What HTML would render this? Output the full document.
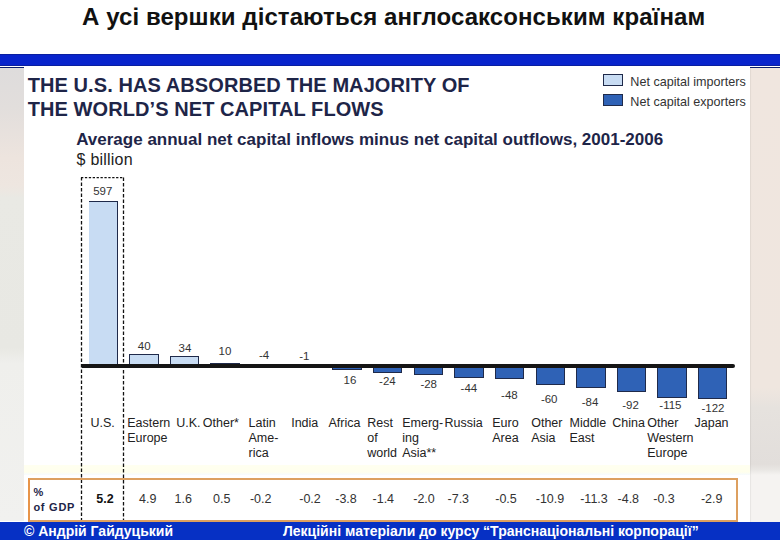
<!DOCTYPE html><html><head><meta charset="utf-8"><style>
*{margin:0;padding:0;box-sizing:border-box}
html,body{width:780px;height:540px;overflow:hidden;background:#fff;font-family:'Liberation Sans', sans-serif}
.a{position:absolute;white-space:nowrap}
</style></head><body>
<div class="a" style="left:82px;top:4.98px;font-size:24px;line-height:24px;letter-spacing:0.08px;font-weight:bold;color:#111">А усі вершки дістаються англосаксонським країнам</div>
<div class="a" style="left:0;top:54px;width:780px;height:11.5px;background:#0824CC;box-shadow:inset 0 1px 0 #0A1FA0,inset 0 -1px 0 #0A1FA0"></div>
<div class="a" style="left:0;top:66.5px;width:24px;height:1.5px;background:#0B1F6E"></div>
<div class="a" style="left:750px;top:66.5px;width:30px;height:1.5px;background:#0B1F6E"></div>
<div class="a" style="left:0;top:68px;width:24px;height:453px;background:linear-gradient(180deg,#DEDCDC 0px,#E2DEDC 40px,#EDE4DE 90px,#EEE6E0 118px,#E9E9E4 130px,#E8E8E3 280px,#EFEFEC 295px,#F1F1EF 453px)"></div>
<div class="a" style="left:750px;top:68px;width:30px;height:453.5px;background:linear-gradient(180deg,#F0E6DF 0px,#EFE6DF 320px,#E6E2DE 340px,#E2DEDB 396px,#E9E7E4 402px,#F5F3F1 407px,#F5F3F1 453.5px);box-shadow:inset 1px 0 1px rgba(0,0,0,0.06)"></div>
<div class="a" style="left:24px;top:465px;width:726px;height:10px;background:linear-gradient(180deg,#FFFFF0,#FFFFEC 70%,#F6FBFF)"></div>
<div class="a" style="left:27.7px;top:72.77px;font-size:20px;line-height:24px;letter-spacing:0.08px;font-weight:bold;color:#1E2548">THE U.S. HAS ABSORBED THE MAJORITY OF<br>THE WORLD’S NET CAPITAL FLOWS</div>
<div class="a" style="left:76.2px;top:130.11px;font-size:17px;line-height:19px;font-weight:bold;color:#1E2548">Average annual net capital inflows minus net capital outflows, 2001-2006</div>
<div class="a" style="left:76.6px;top:150.16px;font-size:16px;letter-spacing:0.22px;line-height:19px;color:#222">$ billion</div>
<div class="a" style="left:602.5px;top:73.8px;width:20px;height:12.4px;background:#C8DCF3;border:1px solid #1F2A4A"></div>
<div class="a" style="left:602.5px;top:94px;width:20px;height:11.5px;background:#2F62B6;border:1px solid #1F2A4A"></div>
<div class="a" style="left:630.3px;top:71.93px;font-size:12.6px;line-height:20px;color:#333">Net capital importers<br>Net capital exporters</div>
<svg class="a" style="left:0;top:0" width="780" height="540"><path d="M81.5 521.5V177.6M123.5 177.6V521.5" fill="none" stroke="#111" stroke-width="1.3" stroke-dasharray="3.4 2.1"/><path d="M81 177.6H124" fill="none" stroke="#111" stroke-width="1.3" stroke-dasharray="2.3 1.6"/></svg>
<div class="a" style="left:89px;top:201px;width:29px;height:164.0px;background:#C8DCF3;border:1px solid #1F2A4A;border-bottom:none;border-left:none"></div>
<div class="a" style="left:129.20px;top:354.2px;width:29.4px;height:10.8px;background:#C8DCF3;border:1px solid #1F2A4A;border-bottom:none"></div>
<div class="a" style="left:169.83px;top:356.2px;width:29.4px;height:8.8px;background:#C8DCF3;border:1px solid #1F2A4A;border-bottom:none"></div>
<div class="a" style="left:210.46px;top:363.0px;width:29.4px;height:2.0px;background:#C8DCF3;border:1px solid #1F2A4A;border-bottom:none"></div>
<div class="a" style="left:332.35px;top:366px;width:29.4px;height:3.8px;background:#2F62B6;border:1px solid #1F2A4A;border-top:none"></div>
<div class="a" style="left:372.98px;top:366px;width:29.4px;height:7.0px;background:#2F62B6;border:1px solid #1F2A4A;border-top:none"></div>
<div class="a" style="left:413.61px;top:366px;width:29.4px;height:9.1px;background:#2F62B6;border:1px solid #1F2A4A;border-top:none"></div>
<div class="a" style="left:454.24px;top:366px;width:29.4px;height:11.6px;background:#2F62B6;border:1px solid #1F2A4A;border-top:none"></div>
<div class="a" style="left:494.87px;top:366px;width:29.4px;height:13.4px;background:#2F62B6;border:1px solid #1F2A4A;border-top:none"></div>
<div class="a" style="left:535.50px;top:366px;width:29.4px;height:18.6px;background:#2F62B6;border:1px solid #1F2A4A;border-top:none"></div>
<div class="a" style="left:576.13px;top:366px;width:29.4px;height:22.0px;background:#2F62B6;border:1px solid #1F2A4A;border-top:none"></div>
<div class="a" style="left:616.76px;top:366px;width:29.4px;height:25.5px;background:#2F62B6;border:1px solid #1F2A4A;border-top:none"></div>
<div class="a" style="left:657.39px;top:366px;width:29.4px;height:31.5px;background:#2F62B6;border:1px solid #1F2A4A;border-top:none"></div>
<div class="a" style="left:698.02px;top:366px;width:29.4px;height:32.7px;background:#2F62B6;border:1px solid #1F2A4A;border-top:none"></div>
<div class="a" style="left:81.7px;top:364px;width:653.5px;height:3.5px;background:#151515;border-radius:0 2px 2px 0"></div>
<div class="a" style="left:62.8px;width:80px;text-align:center;top:184.25px;font-size:11.5px;line-height:14px;color:#333">597</div>
<div class="a" style="left:104.2px;width:80px;text-align:center;top:338.95px;font-size:11.5px;line-height:14px;color:#333">40</div>
<div class="a" style="left:145.0px;width:80px;text-align:center;top:340.55px;font-size:11.5px;line-height:14px;color:#333">34</div>
<div class="a" style="left:185.0px;width:80px;text-align:center;top:343.55px;font-size:11.5px;line-height:14px;color:#333">10</div>
<div class="a" style="left:224.0px;width:80px;text-align:center;top:348.25px;font-size:11.5px;line-height:14px;color:#333">-4</div>
<div class="a" style="left:264.3px;width:80px;text-align:center;top:349.35px;font-size:11.5px;line-height:14px;color:#333">-1</div>
<div class="a" style="left:310.0px;width:80px;text-align:center;top:372.95px;font-size:11.5px;line-height:14px;color:#333">16</div>
<div class="a" style="left:347.4px;width:80px;text-align:center;top:374.45px;font-size:11.5px;line-height:14px;color:#333">-24</div>
<div class="a" style="left:388.7px;width:80px;text-align:center;top:377.25px;font-size:11.5px;line-height:14px;color:#333">-28</div>
<div class="a" style="left:428.9px;width:80px;text-align:center;top:380.85px;font-size:11.5px;line-height:14px;color:#333">-44</div>
<div class="a" style="left:469.4px;width:80px;text-align:center;top:388.05px;font-size:11.5px;line-height:14px;color:#333">-48</div>
<div class="a" style="left:509.2px;width:80px;text-align:center;top:391.55px;font-size:11.5px;line-height:14px;color:#333">-60</div>
<div class="a" style="left:550.0px;width:80px;text-align:center;top:395.05px;font-size:11.5px;line-height:14px;color:#333">-84</div>
<div class="a" style="left:590.6px;width:80px;text-align:center;top:398.45px;font-size:11.5px;line-height:14px;color:#333">-92</div>
<div class="a" style="left:630.4px;width:80px;text-align:center;top:398.45px;font-size:11.5px;line-height:14px;color:#333">-115</div>
<div class="a" style="left:673.0px;width:80px;text-align:center;top:400.95px;font-size:11.5px;line-height:14px;color:#333">-122</div>
<div class="a" style="left:90.5px;top:415.57px;font-size:12.5px;line-height:15.2px;color:#222">U.S.</div>
<div class="a" style="left:127.2px;top:415.57px;font-size:12.5px;line-height:15.2px;color:#222">Eastern<br>Europe</div>
<div class="a" style="left:176.2px;top:415.57px;font-size:12.5px;line-height:15.2px;color:#222">U.K.</div>
<div class="a" style="left:202.8px;top:415.57px;font-size:12.5px;line-height:15.2px;color:#222">Other*</div>
<div class="a" style="left:248.5px;top:415.57px;font-size:12.5px;line-height:15.2px;color:#222">Latin<br>Ame-<br>rica</div>
<div class="a" style="left:291.2px;top:415.57px;font-size:12.5px;line-height:15.2px;color:#222">India</div>
<div class="a" style="left:328.5px;top:415.57px;font-size:12.5px;line-height:15.2px;color:#222">Africa</div>
<div class="a" style="left:367.2px;top:415.57px;font-size:12.5px;line-height:15.2px;color:#222">Rest<br>of<br>world</div>
<div class="a" style="left:402.2px;top:415.57px;font-size:12.5px;line-height:15.2px;color:#222">Emerg-<br>ing<br>Asia**</div>
<div class="a" style="left:444.5px;top:415.57px;font-size:12.5px;line-height:15.2px;color:#222">Russia</div>
<div class="a" style="left:492.2px;top:415.57px;font-size:12.5px;line-height:15.2px;color:#222">Euro<br>Area</div>
<div class="a" style="left:531.2px;top:415.57px;font-size:12.5px;line-height:15.2px;color:#222">Other<br>Asia</div>
<div class="a" style="left:569.5px;top:415.57px;font-size:12.5px;line-height:15.2px;color:#222">Middle<br>East</div>
<div class="a" style="left:612.2px;top:415.57px;font-size:12.5px;line-height:15.2px;color:#222">China</div>
<div class="a" style="left:647.2px;top:415.57px;font-size:12.5px;line-height:15.2px;color:#222">Other<br>Western<br>Europe</div>
<div class="a" style="left:694.5px;top:415.57px;font-size:12.5px;line-height:15.2px;color:#222">Japan</div>
<div class="a" style="left:28px;top:478px;width:710px;height:43.5px;border:2px solid #DDA060;border-left-color:#E89448"></div>
<div class="a" style="left:33.4px;top:484.79px;font-size:11px;letter-spacing:0.75px;line-height:14.8px;font-weight:bold;color:#1E2548">%<br>of GDP</div>
<div class="a" style="left:65.0px;width:80px;text-align:center;top:491.97px;font-size:12.5px;line-height:14px;font-weight:bold;color:#111;">5.2</div>
<div class="a" style="left:107.7px;width:80px;text-align:center;top:491.97px;font-size:12.5px;line-height:14px;color:#333;">4.9</div>
<div class="a" style="left:143.3px;width:80px;text-align:center;top:491.97px;font-size:12.5px;line-height:14px;color:#333;">1.6</div>
<div class="a" style="left:181.7px;width:80px;text-align:center;top:491.97px;font-size:12.5px;line-height:14px;color:#333;">0.5</div>
<div class="a" style="left:220.7px;width:80px;text-align:center;top:491.97px;font-size:12.5px;line-height:14px;color:#333;">-0.2</div>
<div class="a" style="left:270.0px;width:80px;text-align:center;top:491.97px;font-size:12.5px;line-height:14px;color:#333;">-0.2</div>
<div class="a" style="left:306.0px;width:80px;text-align:center;top:491.97px;font-size:12.5px;line-height:14px;color:#333;">-3.8</div>
<div class="a" style="left:343.3px;width:80px;text-align:center;top:491.97px;font-size:12.5px;line-height:14px;color:#333;">-1.4</div>
<div class="a" style="left:384.0px;width:80px;text-align:center;top:491.97px;font-size:12.5px;line-height:14px;color:#333;">-2.0</div>
<div class="a" style="left:418.3px;width:80px;text-align:center;top:491.97px;font-size:12.5px;line-height:14px;color:#333;">-7.3</div>
<div class="a" style="left:466.0px;width:80px;text-align:center;top:491.97px;font-size:12.5px;line-height:14px;color:#333;">-0.5</div>
<div class="a" style="left:510.0px;width:80px;text-align:center;top:491.97px;font-size:12.5px;line-height:14px;color:#333;">-10.9</div>
<div class="a" style="left:554.0px;width:80px;text-align:center;top:491.97px;font-size:12.5px;line-height:14px;color:#333;">-11.3</div>
<div class="a" style="left:588.3px;width:80px;text-align:center;top:491.97px;font-size:12.5px;line-height:14px;color:#333;">-4.8</div>
<div class="a" style="left:624.0px;width:80px;text-align:center;top:491.97px;font-size:12.5px;line-height:14px;color:#333;">-0.3</div>
<div class="a" style="left:671.7px;width:80px;text-align:center;top:491.97px;font-size:12.5px;line-height:14px;color:#333;">-2.9</div>
<div class="a" style="left:0;top:521.5px;width:780px;height:18.5px;background:#0630C4"></div>
<div class="a" style="left:24px;top:523.45px;font-size:14px;line-height:16px;font-weight:bold;color:#fff">© Андрій Гайдуцький</div>
<div class="a" style="left:283px;top:523.45px;font-size:14px;line-height:16px;font-weight:bold;color:#fff">Лекційні матеріали до курсу “Транснаціональні корпорації”</div>
</body></html>
